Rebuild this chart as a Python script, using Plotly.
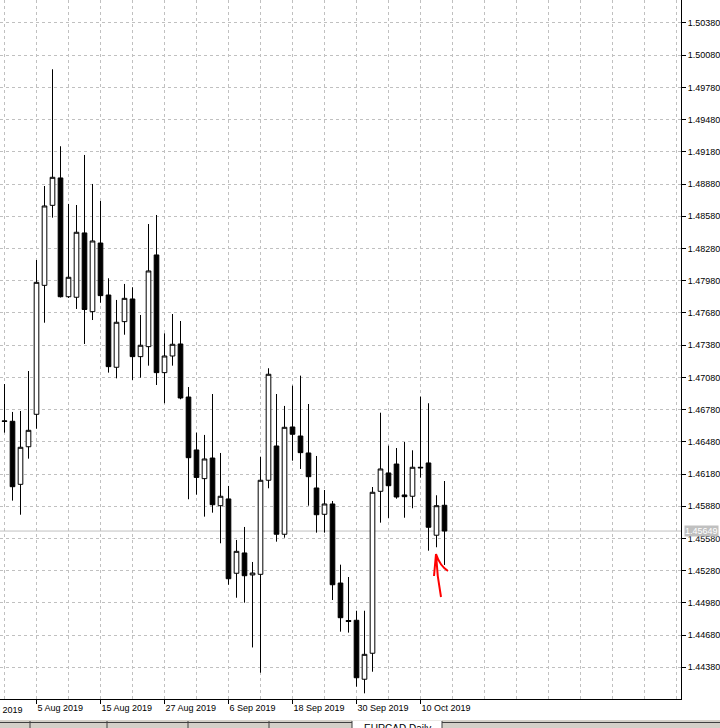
import datetime as dt
import plotly.graph_objects as go

# ---------------- data (EURCAD, Daily) ----------------
dates = [
    "2019-07-30", "2019-07-31", "2019-08-01", "2019-08-02",
    "2019-08-05", "2019-08-06", "2019-08-07", "2019-08-08", "2019-08-09",
    "2019-08-12", "2019-08-13", "2019-08-14", "2019-08-15", "2019-08-16",
    "2019-08-19", "2019-08-20", "2019-08-21", "2019-08-22", "2019-08-23",
    "2019-08-26", "2019-08-27", "2019-08-28", "2019-08-29", "2019-08-30",
    "2019-09-02", "2019-09-03", "2019-09-04", "2019-09-05", "2019-09-06",
    "2019-09-09", "2019-09-10", "2019-09-11", "2019-09-12", "2019-09-13",
    "2019-09-16", "2019-09-17", "2019-09-18", "2019-09-19", "2019-09-20",
    "2019-09-23", "2019-09-24", "2019-09-25", "2019-09-26", "2019-09-27",
    "2019-09-30", "2019-10-01", "2019-10-02", "2019-10-03", "2019-10-04",
    "2019-10-07", "2019-10-08", "2019-10-09", "2019-10-10", "2019-10-11",
    "2019-10-14", "2019-10-15",
]
opens = [
    1.46675, 1.46671, 1.46084, 1.46434,
    1.46736, 1.47937, 1.48682, 1.48937, 1.47831,
    1.47826, 1.48425, 1.47692, 1.48331, 1.47847,
    1.47174, 1.47599, 1.47810, 1.47273, 1.47366,
    1.48220, 1.47124, 1.47279, 1.47391, 1.46897,
    1.46404, 1.46137, 1.46329, 1.45885, 1.45948,
    1.45256, 1.45445, 1.45240, 1.45246, 1.46122,
    1.46441, 1.45619, 1.46618, 1.46534, 1.46376,
    1.46050, 1.45805, 1.45901, 1.45165, 1.44816,
    1.44818, 1.44269, 1.44511, 1.46019, 1.46190,
    1.46273, 1.45985, 1.45973, 1.46243, 1.46283,
    1.45610, 1.45889,
]
highs = [
    1.47018, 1.46758, 1.46767, 1.47139,
    1.48173, 1.48862, 1.49949, 1.49232, 1.48695,
    1.48685, 1.49151, 1.48881, 1.48722, 1.48003,
    1.47801, 1.47950, 1.47919, 1.47661, 1.48508,
    1.48592, 1.47490, 1.47670, 1.47605, 1.46990,
    1.46565, 1.46544, 1.46925, 1.46376, 1.46069,
    1.45566, 1.45687, 1.45361, 1.46339, 1.47165,
    1.46925, 1.46814, 1.47003, 1.47096, 1.46832,
    1.46348, 1.46031, 1.45929, 1.45336, 1.45221,
    1.44907, 1.44907, 1.46059, 1.46751, 1.46444,
    1.46422, 1.46478, 1.46401, 1.46900, 1.46839,
    1.45982, 1.46115,
]
lows = [
    1.46565, 1.45932, 1.45801, 1.46323,
    1.46602, 1.47589, 1.48567, 1.47824, 1.47819,
    1.47717, 1.47391, 1.47614, 1.47775, 1.47124,
    1.47071, 1.47477, 1.47056, 1.47077, 1.47189,
    1.47009, 1.46839, 1.47189, 1.46876, 1.45945,
    1.45988, 1.45783, 1.45820, 1.45535, 1.45149,
    1.45028, 1.44982, 1.44565, 1.44330, 1.46047,
    1.45550, 1.45587, 1.46304, 1.46227, 1.45885,
    1.45634, 1.45634, 1.45007, 1.44712, 1.44703,
    1.44200, 1.44138, 1.44339, 1.45727, 1.45771,
    1.45950, 1.45773, 1.45861, 1.46146, 1.45466,
    1.45498, 1.45333,
]
closes = [
    1.46670, 1.46062, 1.46429, 1.46587,
    1.47965, 1.48676, 1.48943, 1.47831, 1.48012,
    1.48431, 1.47712, 1.48350, 1.47841, 1.47180,
    1.47593, 1.47816, 1.47273, 1.47379, 1.48071,
    1.47124, 1.47279, 1.47388, 1.46888, 1.46332,
    1.46148, 1.46320, 1.45894, 1.45973, 1.45205,
    1.45460, 1.45233, 1.45258, 1.46122, 1.47109,
    1.45619, 1.46615, 1.46550, 1.46379, 1.46155,
    1.45801, 1.45901, 1.45149, 1.44842, 1.44807,
    1.44283, 1.44501, 1.46010, 1.46227, 1.46071,
    1.45966, 1.45969, 1.46243, 1.46238, 1.45684,
    1.45885, 1.45649,
]
last_price = 1.45649
prior_label = "24 Jul 2019"      # label of the tick just left of the view
symbol_tab = "EURCAD,Daily"
y_tick0, y_dtick = 1.50380, 0.003
y_range = [1.44085, 1.50594]
x_range = [-0.5625, 84.5625]

# ---------------- derived ----------------
idx = list(range(len(dates)))


def fmt(d):
    t = dt.date.fromisoformat(d)
    return f"{t.day} {t.strftime('%b')} {t.year}"


tick_idx = [i for i in idx if i % 8 == 4]
tick_text = [fmt(dates[i]) for i in tick_idx]

W, H = 720, 728
ML, MR, MT, MB = 0, 39, 0, 29
PW, PH = W - ML - MR, H - MT - MB


def PX(x):
    return (x - ML) / PW


def PY(y):
    return 1 - (y - MT) / PH


GRID = "#c0c0c0"
FONT = "Liberation Sans"

fig = go.Figure()
fig.add_trace(go.Candlestick(
    x=idx, open=opens, high=highs, low=lows, close=closes,
    increasing=dict(line=dict(color="black", width=1), fillcolor="white"),
    decreasing=dict(line=dict(color="black", width=1), fillcolor="black"),
    whiskerwidth=0, showlegend=False, hoverinfo="skip",
))

shapes = [
    # current price line
    dict(type="line", xref="paper", yref="y", x0=0, x1=1,
         y0=last_price, y1=last_price, line=dict(color=GRID, width=1),
         layer="below"),
    # red hand-drawn arrow
    dict(type="path", xref="paper", yref="paper",
         path=(f"M {PX(441)},{PY(597)} Q {PX(437)},{PY(576)} {PX(436)},{PY(554)} "
               f"M {PX(434)},{PY(576)} L {PX(436)},{PY(554)} "
               f"Q {PX(440)},{PY(566)} {PX(448)},{PY(571)}"),
         line=dict(color="#ff0000", width=2)),
    # bottom tab strip
    dict(type="rect", xref="paper", yref="paper",
         x0=PX(0), x1=PX(720), y0=PY(719), y1=PY(728),
         fillcolor="#d4d0c8", line=dict(width=0)),
    dict(type="line", xref="paper", yref="paper",
         x0=PX(0), x1=PX(720), y0=PY(719.5), y1=PY(719.5),
         line=dict(color="#ffffff", width=1)),
    dict(type="line", xref="paper", yref="paper",
         x0=PX(0), x1=PX(352), y0=PY(722.5), y1=PY(722.5),
         line=dict(color="#404040", width=1)),
    dict(type="line", xref="paper", yref="paper",
         x0=PX(442), x1=PX(720), y0=PY(722.5), y1=PY(722.5),
         line=dict(color="#404040", width=1)),
    dict(type="rect", xref="paper", yref="paper",
         x0=PX(352), x1=PX(442), y0=PY(720.5), y1=PY(728),
         fillcolor="#ffffff", line=dict(width=0)),
]
for sx in [30, 107, 188, 269, 352, 442]:
    shapes.append(dict(type="line", xref="paper", yref="paper",
                       x0=PX(sx), x1=PX(sx), y0=PY(721), y1=PY(728),
                       line=dict(color="#404040", width=1)))

annotations = [
    dict(x=PX(684), xref="paper", y=last_price, yref="y", xanchor="left",
         yanchor="middle", text=f"{last_price:.5f}", showarrow=False,
         font=dict(family=FONT, size=9, color="white"), bgcolor=GRID,
         borderpad=0),
    dict(x=PX(-26), xref="paper", y=PY(703), yref="paper", xanchor="left",
         yanchor="top", text=prior_label, showarrow=False,
         font=dict(family=FONT, size=9, color="black")),
    dict(x=PX(362), xref="paper", y=PY(721), yref="paper", xanchor="left",
         yanchor="top", text=symbol_tab, showarrow=False,
         font=dict(family=FONT, size=10, color="black")),
]

fig.update_layout(
    width=W, height=H,
    margin=dict(l=ML, r=MR, t=MT, b=MB, pad=0),
    paper_bgcolor="white", plot_bgcolor="white",
    boxgap=0.42, boxgroupgap=0,
    font=dict(family=FONT, size=9, color="black"),
    shapes=shapes, annotations=annotations,
    xaxis=dict(
        range=x_range, rangeslider=dict(visible=False),
        tickvals=tick_idx, ticktext=tick_text,
        ticks="outside", ticklen=4, tickcolor="black",
        ticklabelposition="outside right",
        showline=True, linecolor="black", linewidth=1,
        showgrid=True, gridcolor=GRID, griddash="3px,3px", gridwidth=1,
        zeroline=False,
        minor=dict(tick0=0, dtick=4, showgrid=True, gridcolor=GRID,
                   griddash="3px,3px", ticks=""),
        tickfont=dict(family=FONT, size=9, color="black"),
    ),
    yaxis=dict(
        side="right", range=y_range,
        tick0=y_tick0, dtick=y_dtick, tickformat=".5f",
        ticks="outside", ticklen=4, tickcolor="black",
        showline=True, linecolor="black", linewidth=1,
        showgrid=True, gridcolor=GRID, griddash="3px,3px", gridwidth=1,
        zeroline=False,
        tickfont=dict(family=FONT, size=9, color="black"),
    ),
)

fig.write_html("out.html")
